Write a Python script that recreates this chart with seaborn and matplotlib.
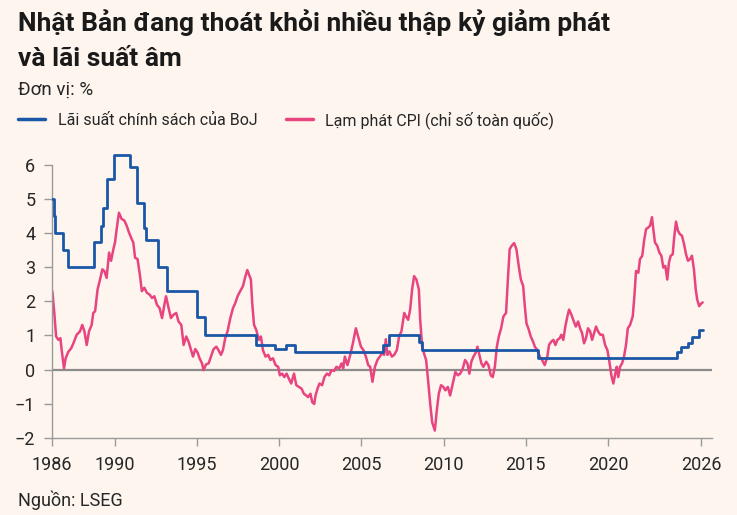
import matplotlib
matplotlib.use('Agg')
import matplotlib.pyplot as plt
import seaborn as sns
import pandas as pd

# Lãi suất chính sách của BoJ (bậc thang), năm thập phân
boj_years = [1986.22, 1986.30, 1986.39, 1986.89, 1987.19, 1988.75, 1989.16, 1989.32,
             1989.56, 1989.96, 1990.93, 1991.35, 1991.77, 1991.91, 1992.62, 1993.19,
             1995.01, 1995.52, 1998.57, 1999.75, 2000.40, 2001.00, 2006.35, 2006.71,
             2008.50, 2008.72, 2015.75, 2024.17, 2024.45, 2024.85, 2025.10, 2025.50,
             2025.75]
boj_rate = [5.0, 4.5, 4.0, 3.5, 3.0, 3.75, 4.2, 4.75,
            5.6, 6.3, 5.95, 4.9, 4.15, 3.8, 3.0, 2.3,
            1.55, 1.0, 0.72, 0.6, 0.72, 0.5, 0.72, 1.0,
            0.8, 0.57, 0.35, 0.52, 0.67, 0.78, 0.95, 1.17,
            1.17]

# Lạm phát CPI (chỉ số toàn quốc)
cpi_years = [1986.22, 1986.34, 1986.45, 1986.59, 1986.71, 1986.79, 1986.93, 1987.03, 1987.19, 1987.36,
             1987.50, 1987.70, 1987.90, 1988.04, 1988.17, 1988.31, 1988.45, 1988.61, 1988.71, 1988.82,
             1988.97, 1989.12, 1989.26, 1989.38, 1989.52, 1989.67, 1989.79, 1989.93, 1990.03, 1990.13,
             1990.27, 1990.43, 1990.60, 1990.74, 1990.88, 1991.04, 1991.14, 1991.25, 1991.40, 1991.55,
             1991.66, 1991.81, 1991.97, 1992.13, 1992.28, 1992.42, 1992.58, 1992.74, 1992.89, 1993.03,
             1993.13, 1993.29, 1993.43, 1993.59, 1993.75, 1993.89, 1994.06, 1994.20, 1994.36, 1994.50,
             1994.65, 1994.77, 1994.91, 1995.05, 1995.17, 1995.32, 1995.41, 1995.56, 1995.72, 1995.86,
             1996.02, 1996.19, 1996.32, 1996.47, 1996.59, 1996.73, 1996.87, 1997.04, 1997.20, 1997.34,
             1997.48, 1997.64, 1997.81, 1997.93, 1998.07, 1998.17, 1998.29, 1998.37, 1998.48, 1998.61,
             1998.78, 1998.90, 1999.02, 1999.18, 1999.34, 1999.48, 1999.63, 1999.79, 1999.95, 2000.05,
             2000.19, 2000.32, 2000.46, 2000.60, 2000.74, 2000.91, 2001.05, 2001.21, 2001.37, 2001.51,
             2001.65, 2001.77, 2001.91, 2002.02, 2002.14, 2002.22, 2002.34, 2002.46, 2002.62, 2002.76,
             2002.91, 2003.05, 2003.19, 2003.35, 2003.49, 2003.66, 2003.80, 2003.90, 2004.00, 2004.16,
             2004.33, 2004.49, 2004.67, 2004.81, 2004.98, 2005.13, 2005.28, 2005.42, 2005.54, 2005.68,
             2005.83, 2005.98, 2006.13, 2006.27, 2006.39, 2006.49, 2006.59, 2006.71, 2006.86, 2007.00,
             2007.16, 2007.30, 2007.44, 2007.61, 2007.71, 2007.85, 2007.97, 2008.09, 2008.21, 2008.35,
             2008.50, 2008.58, 2008.70, 2008.84, 2008.94, 2009.06, 2009.19, 2009.31, 2009.47, 2009.59,
             2009.71, 2009.85, 2009.99, 2010.11, 2010.26, 2010.40, 2010.56, 2010.72, 2010.87, 2011.01,
             2011.17, 2011.31, 2011.45, 2011.57, 2011.69, 2011.82, 2011.94, 2012.06, 2012.18, 2012.30,
             2012.42, 2012.59, 2012.73, 2012.87, 2012.99, 2013.12, 2013.24, 2013.36, 2013.50, 2013.64,
             2013.80, 2013.91, 2014.02, 2014.14, 2014.29, 2014.43, 2014.57, 2014.70, 2014.84, 2014.94,
             2015.04, 2015.18, 2015.30, 2015.44, 2015.55, 2015.70, 2015.85, 2015.99, 2016.15, 2016.31,
             2016.41, 2016.55, 2016.68, 2016.80, 2016.92, 2017.06, 2017.16, 2017.28, 2017.40, 2017.53,
             2017.63, 2017.77, 2017.92, 2018.04, 2018.18, 2018.30, 2018.42, 2018.54, 2018.66, 2018.78,
             2018.91, 2019.03, 2019.15, 2019.27, 2019.39, 2019.53, 2019.68, 2019.82, 2019.96, 2020.08,
             2020.20, 2020.32, 2020.44, 2020.53, 2020.62, 2020.73, 2020.85, 2020.97, 2021.09, 2021.20,
             2021.34, 2021.50, 2021.60, 2021.70, 2021.84, 2021.94, 2022.08, 2022.19, 2022.31, 2022.45,
             2022.55, 2022.67, 2022.75, 2022.85, 2022.99, 2023.12, 2023.24, 2023.36, 2023.48, 2023.60,
             2023.70, 2023.81, 2023.93, 2024.01, 2024.13, 2024.25, 2024.37, 2024.49, 2024.62, 2024.74,
             2024.86, 2024.98, 2025.10, 2025.22, 2025.33, 2025.42, 2025.54, 2025.65, 2025.75]
cpi_rate = [2.30, 1.66, 0.97, 0.87, 0.92, 0.57, 0.03, 0.33, 0.52, 0.62,
            0.77, 1.02, 1.12, 1.31, 1.12, 0.72, 1.12, 1.31, 1.66, 1.71,
            2.35, 2.64, 2.94, 2.89, 2.69, 3.43, 3.19, 3.53, 3.73, 4.12,
            4.60, 4.42, 4.37, 4.22, 4.02, 3.83, 3.73, 3.28, 3.24, 2.75,
            2.30, 2.40, 2.25, 2.20, 2.10, 2.15, 1.90, 1.80, 1.51, 1.90,
            2.15, 1.80, 1.51, 1.61, 1.66, 1.41, 1.31, 0.72, 0.97, 0.82,
            0.57, 0.38, 0.60, 0.50, 0.33, 0.18, -0.02, 0.15, 0.18, 0.38,
            0.60, 0.67, 0.57, 0.43, 0.57, 0.92, 1.12, 1.51, 1.80, 1.95,
            2.15, 2.30, 2.45, 2.69, 2.92, 2.79, 2.64, 1.95, 1.31, 1.17,
            0.87, 0.97, 0.57, 0.38, 0.43, 0.28, 0.33, 0.13, 0.08, -0.17,
            -0.12, -0.22, -0.12, -0.27, -0.41, -0.12, -0.46, -0.51, -0.56, -0.71,
            -0.76, -0.81, -0.71, -0.96, -1.01, -0.76, -0.56, -0.41, -0.46, -0.22,
            -0.12, -0.17, -0.02, -0.04, 0.08, 0.03, 0.18, 0.03, 0.38, 0.13,
            0.43, 0.77, 1.21, 0.97, 0.67, 0.57, 0.38, 0.13, 0.08, -0.36,
            0.08, 0.28, 0.38, 0.48, 0.43, 0.89, 0.43, 0.53, 0.38, 0.43,
            0.57, 0.97, 1.12, 1.66, 1.56, 1.46, 1.76, 2.35, 2.74, 2.64,
            2.35, 1.46, 0.67, 0.43, 0.28, -0.31, -1.01, -1.55, -1.79, -1.20,
            -0.71, -0.46, -0.51, -0.61, -0.51, -0.76, -0.41, -0.07, -0.17, -0.12,
            0.03, 0.28, 0.18, -0.12, 0.23, 0.38, 0.48, 0.67, 0.43, 0.18,
            0.08, 0.23, 0.13, -0.17, -0.22, 0.08, 0.67, 0.97, 1.21, 1.56,
            1.66, 2.64, 3.53, 3.63, 3.71, 3.53, 3.04, 2.64, 2.45, 1.86,
            1.36, 1.17, 0.97, 0.82, 0.67, 0.57, 0.38, 0.28, 0.13, 0.38,
            0.72, 0.82, 0.87, 0.72, 0.87, 0.92, 1.02, 0.87, 1.26, 1.56,
            1.76, 1.61, 1.41, 1.26, 1.41, 1.21, 1.07, 0.77, 0.92, 1.21,
            1.12, 0.87, 1.07, 1.26, 1.12, 1.02, 1.02, 0.72, 0.57, 0.23,
            -0.17, -0.41, -0.12, 0.08, -0.22, 0.08, 0.18, 0.38, 0.72, 1.21,
            1.31, 1.56, 2.15, 2.89, 2.84, 3.24, 3.34, 3.78, 4.12, 4.17,
            4.22, 4.47, 4.12, 3.73, 3.63, 3.43, 3.34, 2.99, 3.04, 2.64,
            3.14, 3.34, 3.38, 3.83, 4.34, 4.07, 3.97, 3.93, 3.68, 3.38,
            3.19, 3.24, 3.34, 2.94, 2.35, 2.05, 1.86, 1.93, 1.97]

x_ticks = [1986.2, 1990, 1995, 2000, 2005, 2010, 2015, 2020, 2025.65]
x_labels = ['1986', '1990', '1995', '2000', '2005', '2010', '2015', '2020', '2026']
y_ticks = [-2, -1, 0, 1, 2, 3, 4, 5, 6]

bg = '#FDF5EE'
blue = '#1B57A8'
pink = '#E8447F'
txt = '#262626'

sns.set_style('ticks')
plt.rcParams['font.family'] = ['Roboto', 'DejaVu Sans']
plt.rcParams['axes.unicode_minus'] = True

boj = pd.DataFrame({'year': boj_years, 'rate': boj_rate})
cpi = pd.DataFrame({'year': cpi_years, 'rate': cpi_rate})

fig = plt.figure(figsize=(7.37, 5.15), dpi=100, facecolor=bg)
W, H = 737, 515
ax = fig.add_axes([52 / W, 77.3 / H, (711.7 - 52) / W, (437.7 - 148) / H])
ax.set_facecolor(bg)

ax.axhline(0, color='#8c8c8c', lw=1.6, zorder=1)
sns.lineplot(data=boj, x='year', y='rate', ax=ax, color=blue, lw=2.0,
             drawstyle='steps-post', estimator=None, sort=False,
             label='Lãi suất chính sách của BoJ', zorder=3)
sns.lineplot(data=cpi, x='year', y='rate', ax=ax, color=pink, lw=1.8,
             estimator=None, sort=False,
             label='Lạm phát CPI (chỉ số toàn quốc)', zorder=2)

ax.set_xlim(1986.22, 2026.30)
ax.set_ylim(-2, 6.5)
ax.set_xticks(x_ticks)
ax.set_xticklabels(x_labels)
ax.set_yticks(y_ticks)
ax.set_yticklabels([str(v).replace('-', '\u2212') for v in y_ticks])
ax.set_xlabel('')
ax.set_ylabel('')

for side in ['top', 'right']:
    ax.spines[side].set_visible(False)
for side in ['left', 'bottom']:
    ax.spines[side].set_color('#9a9a9a')
    ax.spines[side].set_linewidth(1.0)
ax.spines['left'].set_bounds(-2, 6)
ax.tick_params(axis='both', colors='#9a9a9a', labelcolor=txt, labelsize=13,
               length=6, width=1.0)
ax.tick_params(axis='y', pad=6)
ax.tick_params(axis='x', pad=7)

leg = ax.legend(loc='center left', bbox_to_anchor=(18 / W, 1 - 120 / H),
                bbox_transform=fig.transFigure, frameon=False, ncol=2,
                fontsize=11.5, handlelength=1.7, handletextpad=0.8,
                columnspacing=1.75, borderpad=0, borderaxespad=0)
for t in leg.get_texts():
    t.set_color(txt)
for h in leg.get_lines():
    h.set_linewidth(2.5)

fig.text(18 / W, 1 - 31 / H, 'Nhật Bản đang thoát khỏi nhiều thập kỷ giảm phát',
         fontsize=19, fontweight='bold', color='#1a1a1a', va='baseline')
fig.text(18 / W, 1 - 66 / H, 'và lãi suất âm',
         fontsize=19, fontweight='bold', color='#1a1a1a', va='baseline')
fig.text(18 / W, 1 - 95 / H, 'Đơn vị: %', fontsize=13.5, color=txt, va='baseline')
fig.text(18 / W, 1 - 506 / H, 'Nguồn: LSEG', fontsize=13, color=txt, va='baseline')

fig.savefig('out.png', dpi=100, facecolor=bg)
